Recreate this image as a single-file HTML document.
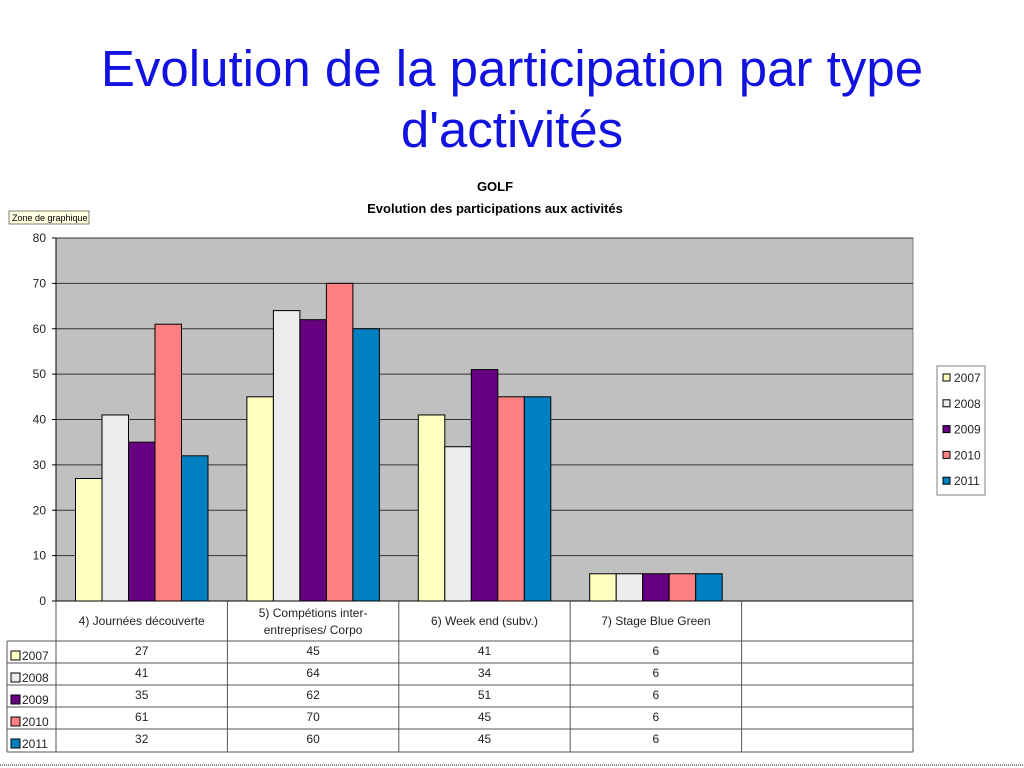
<!DOCTYPE html>
<html><head><meta charset="utf-8"><style>
body{margin:0;width:1024px;height:768px;background:#fff;overflow:hidden;font-family:"Liberation Sans",sans-serif}
#t{position:absolute;left:0;top:38px;width:1024px;text-align:center;color:#1212e0;font-size:51px;line-height:61px}
</style></head><body>
<div id="t">Evolution de la participation par type<br>d'activités</div>
<svg id="c" width="1024" height="768" style="position:absolute;left:0;top:0" font-family="Liberation Sans, sans-serif"></svg>
<script>
const categories=["4) Journées découverte","5) Compétions inter-|entreprises/ Corpo","6) Week end (subv.)","7) Stage Blue Green",""];
const series=["2007","2008","2009","2010","2011"];
const s2007=[27,45,41,6];
const s2008=[41,64,34,6];
const s2009=[35,62,51,6];
const s2010=[61,70,45,6];
const s2011=[32,60,45,6];
const yTicks=[0,10,20,30,40,50,60,70,80];
const colors=["#ffffc0","#ececec","#660080","#ff8080","#0080c0"];
const vals=[s2007,s2008,s2009,s2010,s2011];
const svg=document.getElementById('c');const NS="http://www.w3.org/2000/svg";
function el(t,a,p){const e=document.createElementNS(NS,t);for(const k in a)e.setAttribute(k,a[k]);(p||svg).appendChild(e);return e;}
const L=56,R=913,T=238,B=601,colW=(R-L)/5,barW=26.5,gOff=19.5;
const y=v=>B-(v/80)*(B-T);
const x=(c,s)=>L+c*colW+gOff+s*barW;
let e;
e=el('rect',{x:L,y:T,width:R-L,height:B-T,fill:'#c0c0c0',stroke:'#808080'});

yTicks.forEach(v=>{
 if(v>0){e=el('line',{x1:L,x2:R,y1:y(v),y2:y(v),stroke:'#333'});}
 el('line',{x1:L-4,x2:L,y1:y(v),y2:y(v),stroke:'#000'});
 e=el('text',{x:L-10,y:y(v)+4,'text-anchor':'end','font-size':12,fill:'#222'});e.textContent=v;
 
});
el('line',{x1:L,x2:L,y1:T,y2:B,stroke:'#000'});
vals.forEach((arr,s)=>arr.forEach((v,c)=>{
 e=el('rect',{x:x(c,s),y:y(v),width:barW,height:B-y(v),fill:colors[s],stroke:'#000','stroke-width':1});
 
}));
const rowY=[601,641,663,685,707,729,752];
el('line',{x1:L,x2:R,y1:B,y2:B,stroke:'#000'});
el('line',{x1:7,x2:R,y1:641,y2:641,stroke:'#555'});
for(let i=2;i<rowY.length;i++)el('line',{x1:7,x2:R,y1:rowY[i],y2:rowY[i],stroke:'#555'});
el('line',{x1:7,x2:7,y1:641,y2:752,stroke:'#555'});
for(let c=0;c<=5;c++)el('line',{x1:L+c*colW,x2:L+c*colW,y1:B,y2:752,stroke:'#555'});
categories.forEach((cat,c)=>{
 const parts=cat.split('|');const cx=L+c*colW+colW/2;
 parts.forEach((p,i)=>{e=el('text',{x:cx,y:(parts.length>1?617:625)+i*17,'text-anchor':'middle','font-size':12,fill:'#222'});e.textContent=p;
 });
});
series.forEach((s,i)=>{
 const ry=rowY[i+1];
 el('rect',{x:11,y:ry+10,width:9,height:9,fill:colors[i],stroke:'#000'});
 e=el('text',{x:22,y:ry+19,'font-size':12,fill:'#222'});e.textContent=s;
 
 vals[i].forEach((v,c)=>{e=el('text',{x:L+c*colW+colW/2,y:ry+14,'text-anchor':'middle','font-size':12,fill:'#222'});e.textContent=v;
 });
});
e=el('text',{x:495,y:191,'text-anchor':'middle','font-size':13,'font-weight':'bold'});e.textContent='GOLF';

e=el('text',{x:495,y:213,'text-anchor':'middle','font-size':13,'font-weight':'bold'});e.textContent='Evolution des participations aux activités';

el('rect',{x:9,y:211,width:80,height:13,fill:'#ffffe1',stroke:'#000','stroke-width':0.5});
e=el('text',{x:12,y:221,'font-size':9});e.textContent='Zone de graphique';

e=el('rect',{x:937,y:366,width:48,height:129,fill:'#fff',stroke:'#808080'});

series.forEach((s,i)=>{const ly=374+i*25.8;
 el('rect',{x:943,y:ly,width:7,height:7,fill:colors[i],stroke:'#000'});
 e=el('text',{x:954,y:ly+8,'font-size':12,fill:'#222'});e.textContent=s;
 
});
el('line',{x1:0,x2:1024,y1:765,y2:765,stroke:'#888','stroke-dasharray':'1 1','stroke-width':2});
</script>
</body></html>
